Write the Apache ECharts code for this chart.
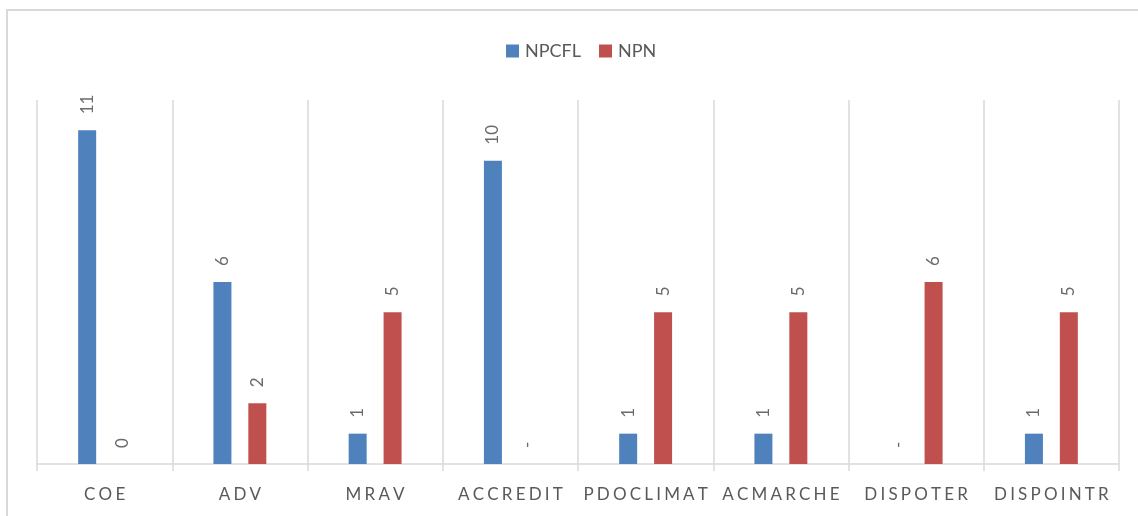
<!DOCTYPE html>
<html>
<head>
<meta charset="utf-8">
<script src="https://cdn.jsdelivr.net/npm/echarts@6/dist/echarts.min.js"></script>
<style>
  html, body { margin: 0; padding: 0; background: #fff; }
  #chart { width: 1138px; height: 516px; }
</style>
</head>
<body>
<div id="chart"></div>
<script>
// Categories and series values; null = no value, shown as a dash label
const categories = ['COE', 'ADV', 'MRAV', 'ACCREDIT', 'PDOCLIMAT', 'ACMARCHE', 'DISPOTER', 'DISPOINTR'];
const npcfl = [11, 6, 1, 10, 1, 1, null, 1];
const npn = [0, 2, 5, null, 5, 5, 6, 5];
const seriesNames = ['NPCFL', 'NPN'];

const FONT = 'Lato, "Liberation Sans", sans-serif';
const TEXT = '#595959';
const GRID = '#d9d9d9';

function toData(values) {
  return values.map(v => v === null ? { value: 0, label: { formatter: '-' } } : v);
}

// wide letter spacing for the category names
function spaced(s) {
  return s.split('').join('\u2009\u200A');
}

const labelStyle = {
  show: true,
  position: 'top',
  rotate: 90,
  align: 'left',
  verticalAlign: 'middle',
  distance: 16,
  fontFamily: FONT,
  fontSize: 17,
  color: '#6b6b6b'
};

const chart = echarts.init(document.getElementById('chart'), null, { renderer: 'canvas' });
chart.setOption({
  animation: false,
  backgroundColor: '#fff',
  graphic: [{
    type: 'rect',
    silent: true,
    shape: { x: 7, y: 10, width: 1300, height: 700 },
    style: { fill: 'none', stroke: GRID, lineWidth: 2 }
  }],
  legend: {
    left: 501,
    top: 37,
    icon: 'rect',
    itemWidth: 13,
    itemHeight: 13,
    itemGap: 18,
    textStyle: { fontFamily: FONT, fontSize: 18, color: TEXT, padding: [0, 0, 0, 1] },
    data: seriesNames
  },
  grid: { left: 37, right: 19, top: 100, bottom: 52, containLabel: false },
  xAxis: {
    type: 'category',
    data: categories,
    axisLine: { lineStyle: { color: GRID, width: 1.5 } },
    axisTick: { show: true, interval: 0, length: 7, lineStyle: { color: GRID, width: 1.5 } },
    splitLine: { show: true, interval: 0, lineStyle: { color: GRID, width: 1.5 } },
    axisLabel: {
      interval: 0,
      margin: 22,
      fontFamily: FONT,
      fontSize: 17,
      color: TEXT,
      formatter: spaced
    }
  },
  yAxis: { type: 'value', min: 0, max: 12, show: false },
  series: [
    {
      name: seriesNames[0],
      type: 'bar',
      data: toData(npcfl),
      barWidth: 18,
      barGap: '94%',
      itemStyle: { color: '#4F81BD' },
      label: labelStyle
    },
    {
      name: seriesNames[1],
      type: 'bar',
      data: toData(npn),
      barWidth: 18,
      barGap: '94%',
      itemStyle: { color: '#C0504D' },
      label: labelStyle
    }
  ]
});
</script>
</body>
</html>
